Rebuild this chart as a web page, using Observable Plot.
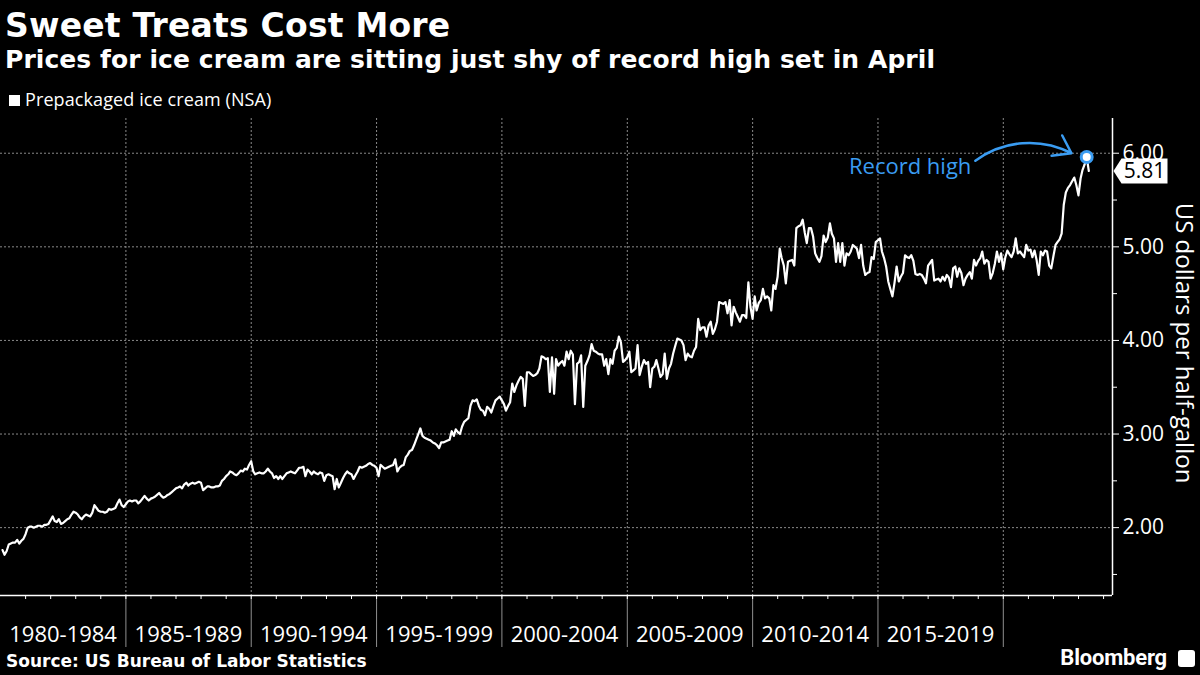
<!DOCTYPE html>
<html>
<head>
<meta charset="utf-8">
<script src="https://cdn.jsdelivr.net/npm/d3@7"></script>
<script src="https://cdn.jsdelivr.net/npm/@observablehq/plot@0.6"></script>
<style>
  html, body { margin: 0; padding: 0; background: #000; }
  body { width: 1200px; height: 675px; overflow: hidden; position: relative; color: #fff; }
  #header { position: relative; height: 112px; }
  .title { position: absolute; left: 5px; top: 9px; font: bold 33px "DejaVu Sans"; line-height: 1; white-space: nowrap; letter-spacing: 0.2px; }
  .subtitle { position: absolute; left: 5px; top: 47px; font: bold 25px "DejaVu Sans"; line-height: 1; white-space: nowrap; letter-spacing: 0.07px; }
  .legend-swatch { position: absolute; left: 9px; top: 95px; width: 11px; height: 11px; background: #fff; }
  .legend-text { position: absolute; left: 25px; top: 90px; font: 18px "Open Sans"; line-height: 1; white-space: nowrap; letter-spacing: 0.1px; }
  #chart { height: 538px; }
  #chart svg { display: block; overflow: visible; }
  #footer { position: relative; height: 25px; }
  .source { position: absolute; left: 6px; top: 3px; font: bold 17px "DejaVu Sans"; line-height: 1; white-space: nowrap; }
  .brand { position: absolute; right: 33px; top: -3px; font: bold 22px Roboto; line-height: 1; white-space: nowrap; letter-spacing: -0.2px; }
  .brand-icon { position: absolute; right: 5px; top: 0px; width: 17px; height: 17px; background: #fff; border-radius: 3px; }
</style>
</head>
<body>
<div id="header">
  <div class="title">Sweet Treats Cost More</div>
  <div class="subtitle">Prices for ice cream are sitting just shy of record high set in April</div>
  <div class="legend-swatch"></div>
  <div class="legend-text">Prepackaged ice cream (NSA)</div>
</div>
<div id="chart"></div>
<div id="footer">
  <div class="source">Source: US Bureau of Labor Statistics</div>
  <div class="brand">Bloomberg</div>
  <div class="brand-icon"></div>
</div>
<script>
// ---- Data: monthly average price, prepackaged ice cream, US$ per half-gallon (Jan 1980 – May 2023)
const firstYear = 1980;
const prices1980s = [
  1.76, 1.71, 1.75, 1.82, 1.83, 1.84, 1.84, 1.87, 1.83, 1.86, 1.88, 1.93,
  2.00, 2.01, 2.01, 2.00, 2.01, 2.02, 2.02, 2.01, 2.03, 2.03, 2.04, 2.08,
  2.12, 2.07, 2.06, 2.09, 2.04, 2.05, 2.07, 2.09, 2.10, 2.14, 2.17, 2.16,
  2.14, 2.11, 2.09, 2.12, 2.14, 2.13, 2.12, 2.16, 2.24, 2.21, 2.18, 2.17,
  2.17, 2.16, 2.17, 2.20, 2.19, 2.20, 2.21, 2.26, 2.30, 2.24, 2.22, 2.25,
  2.28, 2.29, 2.28, 2.29, 2.29, 2.26, 2.28, 2.31, 2.34, 2.31, 2.29, 2.31,
  2.32, 2.33, 2.35, 2.37, 2.34, 2.32, 2.33, 2.35, 2.36, 2.38, 2.40, 2.42,
  2.43, 2.44, 2.42, 2.46, 2.48, 2.45, 2.47, 2.48, 2.47, 2.48, 2.49, 2.48,
  2.40, 2.42, 2.44, 2.44, 2.43, 2.43, 2.44, 2.44, 2.45, 2.50, 2.52, 2.55,
  2.57, 2.60, 2.59, 2.57, 2.56, 2.58, 2.61, 2.60, 2.63, 2.62, 2.67, 2.71
];
const prices1990s = [
  2.60, 2.57, 2.58, 2.59, 2.58, 2.58, 2.60, 2.63, 2.60, 2.58, 2.53, 2.55,
  2.52, 2.55, 2.52, 2.55, 2.58, 2.59, 2.60, 2.59, 2.58, 2.61, 2.64, 2.64,
  2.65, 2.55, 2.62, 2.60, 2.57, 2.60, 2.58, 2.57, 2.59, 2.58, 2.50, 2.56,
  2.57, 2.56, 2.55, 2.41, 2.52, 2.43, 2.48, 2.53, 2.57, 2.60, 2.58, 2.57,
  2.52, 2.56, 2.60, 2.65, 2.64, 2.65, 2.66, 2.68, 2.69, 2.67, 2.66, 2.64,
  2.55, 2.67, 2.65, 2.63, 2.64, 2.65, 2.66, 2.67, 2.73, 2.60, 2.64, 2.66,
  2.67, 2.75, 2.78, 2.82, 2.83, 2.88, 2.94, 3.00, 3.06, 2.98, 2.96, 2.95,
  2.94, 2.93, 2.91, 2.90, 2.88, 2.85, 2.91, 2.91, 2.92, 2.93, 2.94, 3.03,
  2.98, 3.05, 3.02, 3.00, 3.08, 3.13, 3.15, 3.17, 3.30, 3.36, 3.35, 3.37,
  3.30, 3.26, 3.25, 3.20, 3.29, 3.27, 3.23, 3.30, 3.36, 3.38, 3.40, 3.36
];
const prices2000s = [
  3.32, 3.25, 3.30, 3.34, 3.54, 3.45, 3.52, 3.57, 3.61, 3.59, 3.30, 3.66,
  3.66, 3.64, 3.62, 3.63, 3.65, 3.70, 3.83, 3.82, 3.80, 3.81, 3.45, 3.82,
  3.43, 3.80, 3.73, 3.76, 3.78, 3.73, 3.88, 3.80, 3.89, 3.85, 3.32, 3.75,
  3.77, 3.84, 3.29, 3.73, 3.78, 3.84, 3.96, 3.89, 3.88, 3.86, 3.85, 3.85,
  3.73, 3.80, 3.64, 3.80, 3.75, 3.89, 3.92, 4.04, 3.98, 3.77, 3.79, 3.82,
  3.88, 3.66, 3.68, 3.70, 3.95, 3.63, 3.72, 3.79, 3.75, 3.77, 3.50, 3.70,
  3.72, 3.79, 3.70, 3.61, 3.64, 3.86, 3.59, 3.70, 3.75, 3.86, 3.94, 4.02,
  4.01, 4.00, 3.95, 3.79, 3.86, 3.83, 3.82, 3.89, 3.93, 4.23, 4.11, 4.14,
  4.14, 4.04, 4.16, 4.20, 4.07, 4.12, 4.20, 4.41, 4.40, 4.39, 4.41, 4.29,
  4.43, 4.16, 4.36, 4.30, 4.25, 4.20, 4.27, 4.27, 4.24, 4.62, 4.36, 4.23
];
const prices2010s = [
  4.47, 4.32, 4.40, 4.43, 4.55, 4.45, 4.47, 4.45, 4.32, 4.59, 4.55, 4.68,
  4.98, 4.88, 4.80, 4.61, 4.84, 4.85, 4.86, 4.80, 5.20, 5.22, 5.23, 5.29,
  5.15, 5.04, 5.20, 5.20, 5.11, 4.93, 4.88, 4.84, 4.90, 5.12, 5.05, 5.10,
  5.25, 5.14, 5.09, 4.84, 5.04, 4.84, 5.04, 4.80, 4.93, 4.91, 4.95, 5.02,
  5.00, 4.98, 4.88, 5.02, 4.80, 4.70, 4.72, 4.73, 4.89, 4.87, 5.05, 5.07,
  5.09, 4.95, 4.88, 4.79, 4.63, 4.55, 4.47, 4.62, 4.79, 4.63, 4.68, 4.72,
  4.91, 4.89, 4.88, 4.91, 4.85, 4.71, 4.70, 4.71, 4.70, 4.66, 4.61, 4.80,
  4.83, 4.86, 4.64, 4.65, 4.66, 4.63, 4.68, 4.64, 4.70, 4.67, 4.57, 4.77,
  4.79, 4.68, 4.77, 4.72, 4.59, 4.66, 4.70, 4.73, 4.66, 4.86, 4.80, 4.85,
  4.88, 4.95, 4.82, 4.86, 4.84, 4.66, 4.72, 4.82, 4.95, 4.84, 4.93, 4.76
];
const prices2020s = [
  4.89, 4.96, 4.92, 4.89, 4.95, 5.09, 4.93, 4.95, 4.92, 4.89, 5.02, 4.96,
  4.97, 4.89, 4.96, 4.86, 4.70, 4.95, 4.91, 4.96, 4.95, 4.80, 4.77, 4.90,
  5.02, 5.05, 5.08, 5.14, 5.45, 5.58, 5.63, 5.66, 5.70, 5.74, 5.66, 5.55,
  5.73, 5.82, 5.88, 5.96, 5.81
];

const periodStarts = [1980, 1985, 1990, 1995, 2000, 2005, 2010, 2015];
const periodLabels = ["1980-1984", "1985-1989", "1990-1994", "1995-1999", "2000-2004", "2005-2009", "2010-2014", "2015-2019"];
const boundaryYears = [1985, 1990, 1995, 2000, 2005, 2010, 2015, 2020];
const yMajorTicks = [2, 3, 4, 5, 6];
const yMinorTicks = [1.5, 2.5, 3.5, 4.5, 5.5];
const seriesName = "Prepackaged ice cream (NSA)";
const yAxisTitle = "US dollars per half-gallon";
const recordLabel = "Record high";

// ---- Build table (each monthly value dated at the end of its month)
const allPrices = [...prices1980s, ...prices1990s, ...prices2000s, ...prices2010s, ...prices2020s];
const series = allPrices.map((value, i) => ({
  date: new Date(Date.UTC(firstYear, i + 1, 0)),
  value
}));
const record = series.reduce((a, b) => (b.value > a.value ? b : a));
const last = series[series.length - 1];

const xDomain = [new Date(Date.UTC(1980, 0, 1)), new Date(Date.UTC(2024, 4, 10))];
const yDomain = [1.275, 6.371];
const blue = "#3a9cf2";

const yearTicks = d3.range(1981, 2025).map(y => new Date(Date.UTC(y, 0, 1)));
const boundaryDates = boundaryYears.map(y => new Date(Date.UTC(y, 0, 1)));
const midDates = periodStarts.map(y => new Date(Date.UTC(y + 2, 6, 1)));

// annotation: arrow from label to the record point
const arrowData = [{
  x1: new Date(Date.UTC(2018, 10, 20)), y1: 5.92,
  x2: new Date(Date.UTC(2022, 8, 20)), y2: 6.00
}];

// custom label shape (left-pointing tag)
const tagSymbol = {
  draw(ctx) {
    ctx.moveTo(1, 0);
    ctx.lineTo(9, -12.5);
    ctx.lineTo(55, -12.5);
    ctx.lineTo(55, 12.5);
    ctx.lineTo(9, 12.5);
    ctx.closePath();
  }
};

const chart = Plot.plot({
  width: 1200,
  height: 538,
  marginTop: 6,
  marginBottom: 55,
  marginLeft: 0,
  marginRight: 88,
  style: { background: "#000", color: "#fff", fontFamily: "Open Sans", overflow: "visible" },
  x: { type: "utc", domain: xDomain },
  y: { domain: yDomain },
  marks: [
    Plot.ruleY(yMajorTicks, { stroke: "#8a8a8a", strokeDasharray: "2,2", strokeWidth: 1 }),
    Plot.ruleX(boundaryDates, { stroke: "#8a8a8a", strokeDasharray: "2,2", strokeWidth: 1 }),
    Plot.axisX(boundaryDates, { tickSize: 52, stroke: "#8f8f8f", tickFormat: () => "", label: null }),
    Plot.axisX(yearTicks, { tickSize: 4, stroke: "#fff", tickFormat: () => "", label: null }),
    Plot.axisX(midDates, {
      tickSize: 0, tickPadding: 31, fontSize: 22, fill: "#fff", label: null,
      tickFormat: (d, i) => periodLabels[i]
    }),
    Plot.ruleY([yDomain[0]], { stroke: "#fff", strokeWidth: 1.5 }),
    Plot.ruleX([xDomain[1]], { stroke: "#fff", strokeWidth: 1.5 }),
    Plot.axisY(yMinorTicks, { anchor: "right", tickSize: 4, stroke: "#fff", tickFormat: () => "", label: null }),
    Plot.axisY(yMajorTicks, {
      anchor: "right", tickSize: 6, tickPadding: 4, stroke: "#fff", fill: "#fff",
      fontSize: 21, label: null, tickFormat: d => d.toFixed(2)
    }),
    Plot.text([yAxisTitle], {
      frameAnchor: "right", textAnchor: "middle", lineAnchor: "middle",
      rotate: 90, dx: 71, dy: -14, fontSize: 24, fill: "#fff"
    }),
    Plot.line(series, { x: "date", y: "value", stroke: "#fff", strokeWidth: 2.2 }),
    Plot.arrow(arrowData, {
      x1: "x1", y1: "y1", x2: "x2", y2: "y2", bend: 32,
      stroke: blue, strokeWidth: 2.5, headLength: 12, headAngle: 70
    }),
    Plot.text(arrowData, {
      x: "x1", y: "y1", text: () => recordLabel, textAnchor: "end",
      dx: -4, dy: 6, fontSize: 22, fill: blue
    }),
    Plot.dot([record], { x: "date", y: "value", r: 5.5, fill: "#fff", stroke: blue, strokeWidth: 3 }),
    Plot.dot([last], { x: () => xDomain[1], y: "value", symbol: tagSymbol, fill: "#fff", stroke: "none", r: 5 }),
    Plot.text([last], {
      x: () => xDomain[1], y: "value", text: d => d.value.toFixed(2),
      dx: 32, fontSize: 21, fill: "#000"
    })
  ]
});
document.getElementById("chart").appendChild(chart);
</script>
</body>
</html>
